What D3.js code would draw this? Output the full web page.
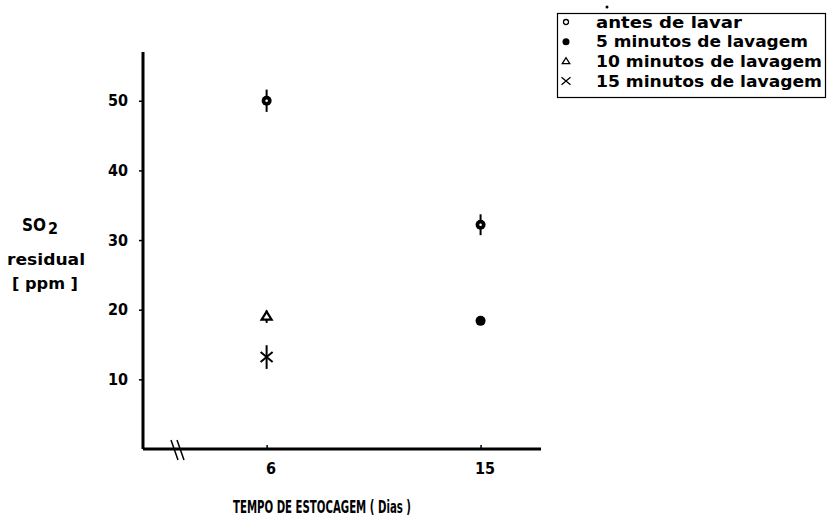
<!DOCTYPE html>
<html>
<head>
<meta charset="utf-8">
<script src="https://cdn.jsdelivr.net/npm/d3@7"></script>
<style>
  body { margin:0; background:#fff; }
  text { font-weight:bold; fill:#000; }
</style>
</head>
<body>
<svg width="827" height="521"></svg>
<script>
// data
var seriesNames = ["antes de lavar","5 minutos de lavagem","10 minutos de lavagem","15 minutos de lavagem"];
var seriesKeys  = ["antes","cinco","dez","quinze"];
var days   = [6, 15, 15, 6, 6];
var values = [50, 32.2, 18.4, 19, 13.2];
var errs   = [1.6, 1.5, 0, 0.9, 1.7];
var series = ["antes", "antes", "cinco", "dez", "quinze"];
var yTicks = [10, 20, 30, 40, 50];
var xTicks = [6, 15];

var points = days.map((d,i) => ({day:d, value:values[i], err:errs[i], key:series[i]}));

var condensed = "'DejaVu Sans Condensed', 'DejaVu Sans', sans-serif";
var narrow = "'Liberation Sans Narrow', 'DejaVu Sans Condensed', sans-serif";

var svg = d3.select("svg");

var xScale = d3.scaleLinear().domain([0.8, 17.5]).range([143, 540]);
var yScale = d3.scaleLinear().domain([0, 57]).range([449, 52]);

// y axis
var yAxis = d3.axisLeft(yScale).tickValues(yTicks).tickSize(4).tickSizeOuter(0).tickPadding(11);
var gy = svg.append("g").attr("transform","translate(143,0)").call(yAxis);
gy.select(".domain").attr("stroke-width",3).attr("d","M0,52V449");
gy.selectAll(".tick line").attr("stroke-width",1.5);
gy.selectAll(".tick text").style("font-size","16px").style("font-family",condensed).style("font-weight","bold");

// x axis
var xAxis = d3.axisBottom(xScale).tickValues(xTicks).tickSize(-4).tickSizeOuter(0).tickPadding(14);
var gx = svg.append("g").attr("transform","translate(0,449)").call(xAxis);
gx.select(".domain").attr("stroke-width",3).attr("d","M143,0H541");
gx.selectAll(".tick line").attr("stroke-width",1.5);
gx.selectAll(".tick text").style("font-size","16px").style("font-family",condensed).style("font-weight","bold").attr("dx","4");

// axis break marks
[0, 6].forEach(o => {
  svg.append("line")
    .attr("x1", 171 + o).attr("y1", 440)
    .attr("x2", 178 + o).attr("y2", 460)
    .attr("stroke","#000").attr("stroke-width",1.5);
});

// error bars
svg.selectAll(".err").data(points.filter(p => p.err > 0)).enter()
  .append("line")
    .attr("x1", d => xScale(d.day)).attr("x2", d => xScale(d.day))
    .attr("y1", d => yScale(d.value + d.err)).attr("y2", d => yScale(d.value - d.err))
    .attr("stroke","#000").attr("stroke-width",2);

function drawMarker(g, key, big) {
  var s = big ? 1 : 0.75;
  if (key === "antes") {
    if (big) {
      g.append("circle").attr("r",5).attr("fill","#000");
      g.append("circle").attr("r",1.3).attr("fill","#fff");
    } else {
      g.append("circle").attr("r",2.5).attr("fill","#fff").attr("stroke","#000").attr("stroke-width",1.3);
    }
  } else if (key === "cinco") {
    g.append("circle").attr("r", big ? 5 : 3.5).attr("fill","#000");
  } else if (key === "dez") {
    g.append("path").attr("d", `M${-5*s},${3*s}L0,${-5*s}L${5*s},${3*s}Z`)
      .attr("fill","#fff").attr("stroke","#000").attr("stroke-width", big ? 2.2 : 1.3);
  } else {
    g.append("path").attr("d", `M${-6*s},${-5*s}L${6*s},${5*s}M${-6*s},${5*s}L${6*s},${-5*s}`)
      .attr("stroke","#000").attr("stroke-width", big ? 2 : 1.3).attr("fill","none");
  }
}

points.forEach(p => {
  var g = svg.append("g").attr("transform", `translate(${xScale(p.day)},${yScale(p.value)})`);
  drawMarker(g, p.key, true);
});

// y title
var yt = svg.append("text").attr("x",22).attr("y",231).style("font-size","17px").style("font-family",condensed);
yt.append("tspan").text("SO");
yt.append("tspan").attr("dx",2).attr("dy",3).style("font-size","16px").text("2");
svg.append("text").attr("x",7).attr("y",265).style("font-size","16px").style("font-family",condensed)
  .attr("textLength",78).attr("lengthAdjust","spacingAndGlyphs").text("residual");
svg.append("text").attr("x",12).attr("y",289).style("font-size","16px").style("font-family",condensed)
  .attr("textLength",66).attr("lengthAdjust","spacingAndGlyphs").text("[ ppm ]");

// x title
svg.append("text").attr("x",233).attr("y",513).style("font-size","18px").style("font-family",narrow)
  .attr("textLength",178).attr("lengthAdjust","spacingAndGlyphs")
  .text("TEMPO DE ESTOCAGEM ( Dias )");

// legend
var legend = svg.append("g");
legend.append("rect").attr("x",557.5).attr("y",13.5).attr("width",268).attr("height",84)
  .attr("fill","none").attr("stroke","#000").attr("stroke-width",1.2);
seriesKeys.forEach((k,i) => {
  var row = legend.append("g").attr("transform", `translate(0,${22 + i*19.7})`);
  drawMarker(row.append("g").attr("transform","translate(566,0)"), k, false);
  row.append("text").attr("x",596).attr("y",5.5).style("font-size","15px").style("font-family",condensed)
    .attr("textLength", [146,212,226,226][i]).attr("lengthAdjust","spacingAndGlyphs")
    .text(seriesNames[i]);
});
svg.append("circle").attr("cx",607).attr("cy",7).attr("r",1.5).attr("fill","#000");
</script>
</body>
</html>
